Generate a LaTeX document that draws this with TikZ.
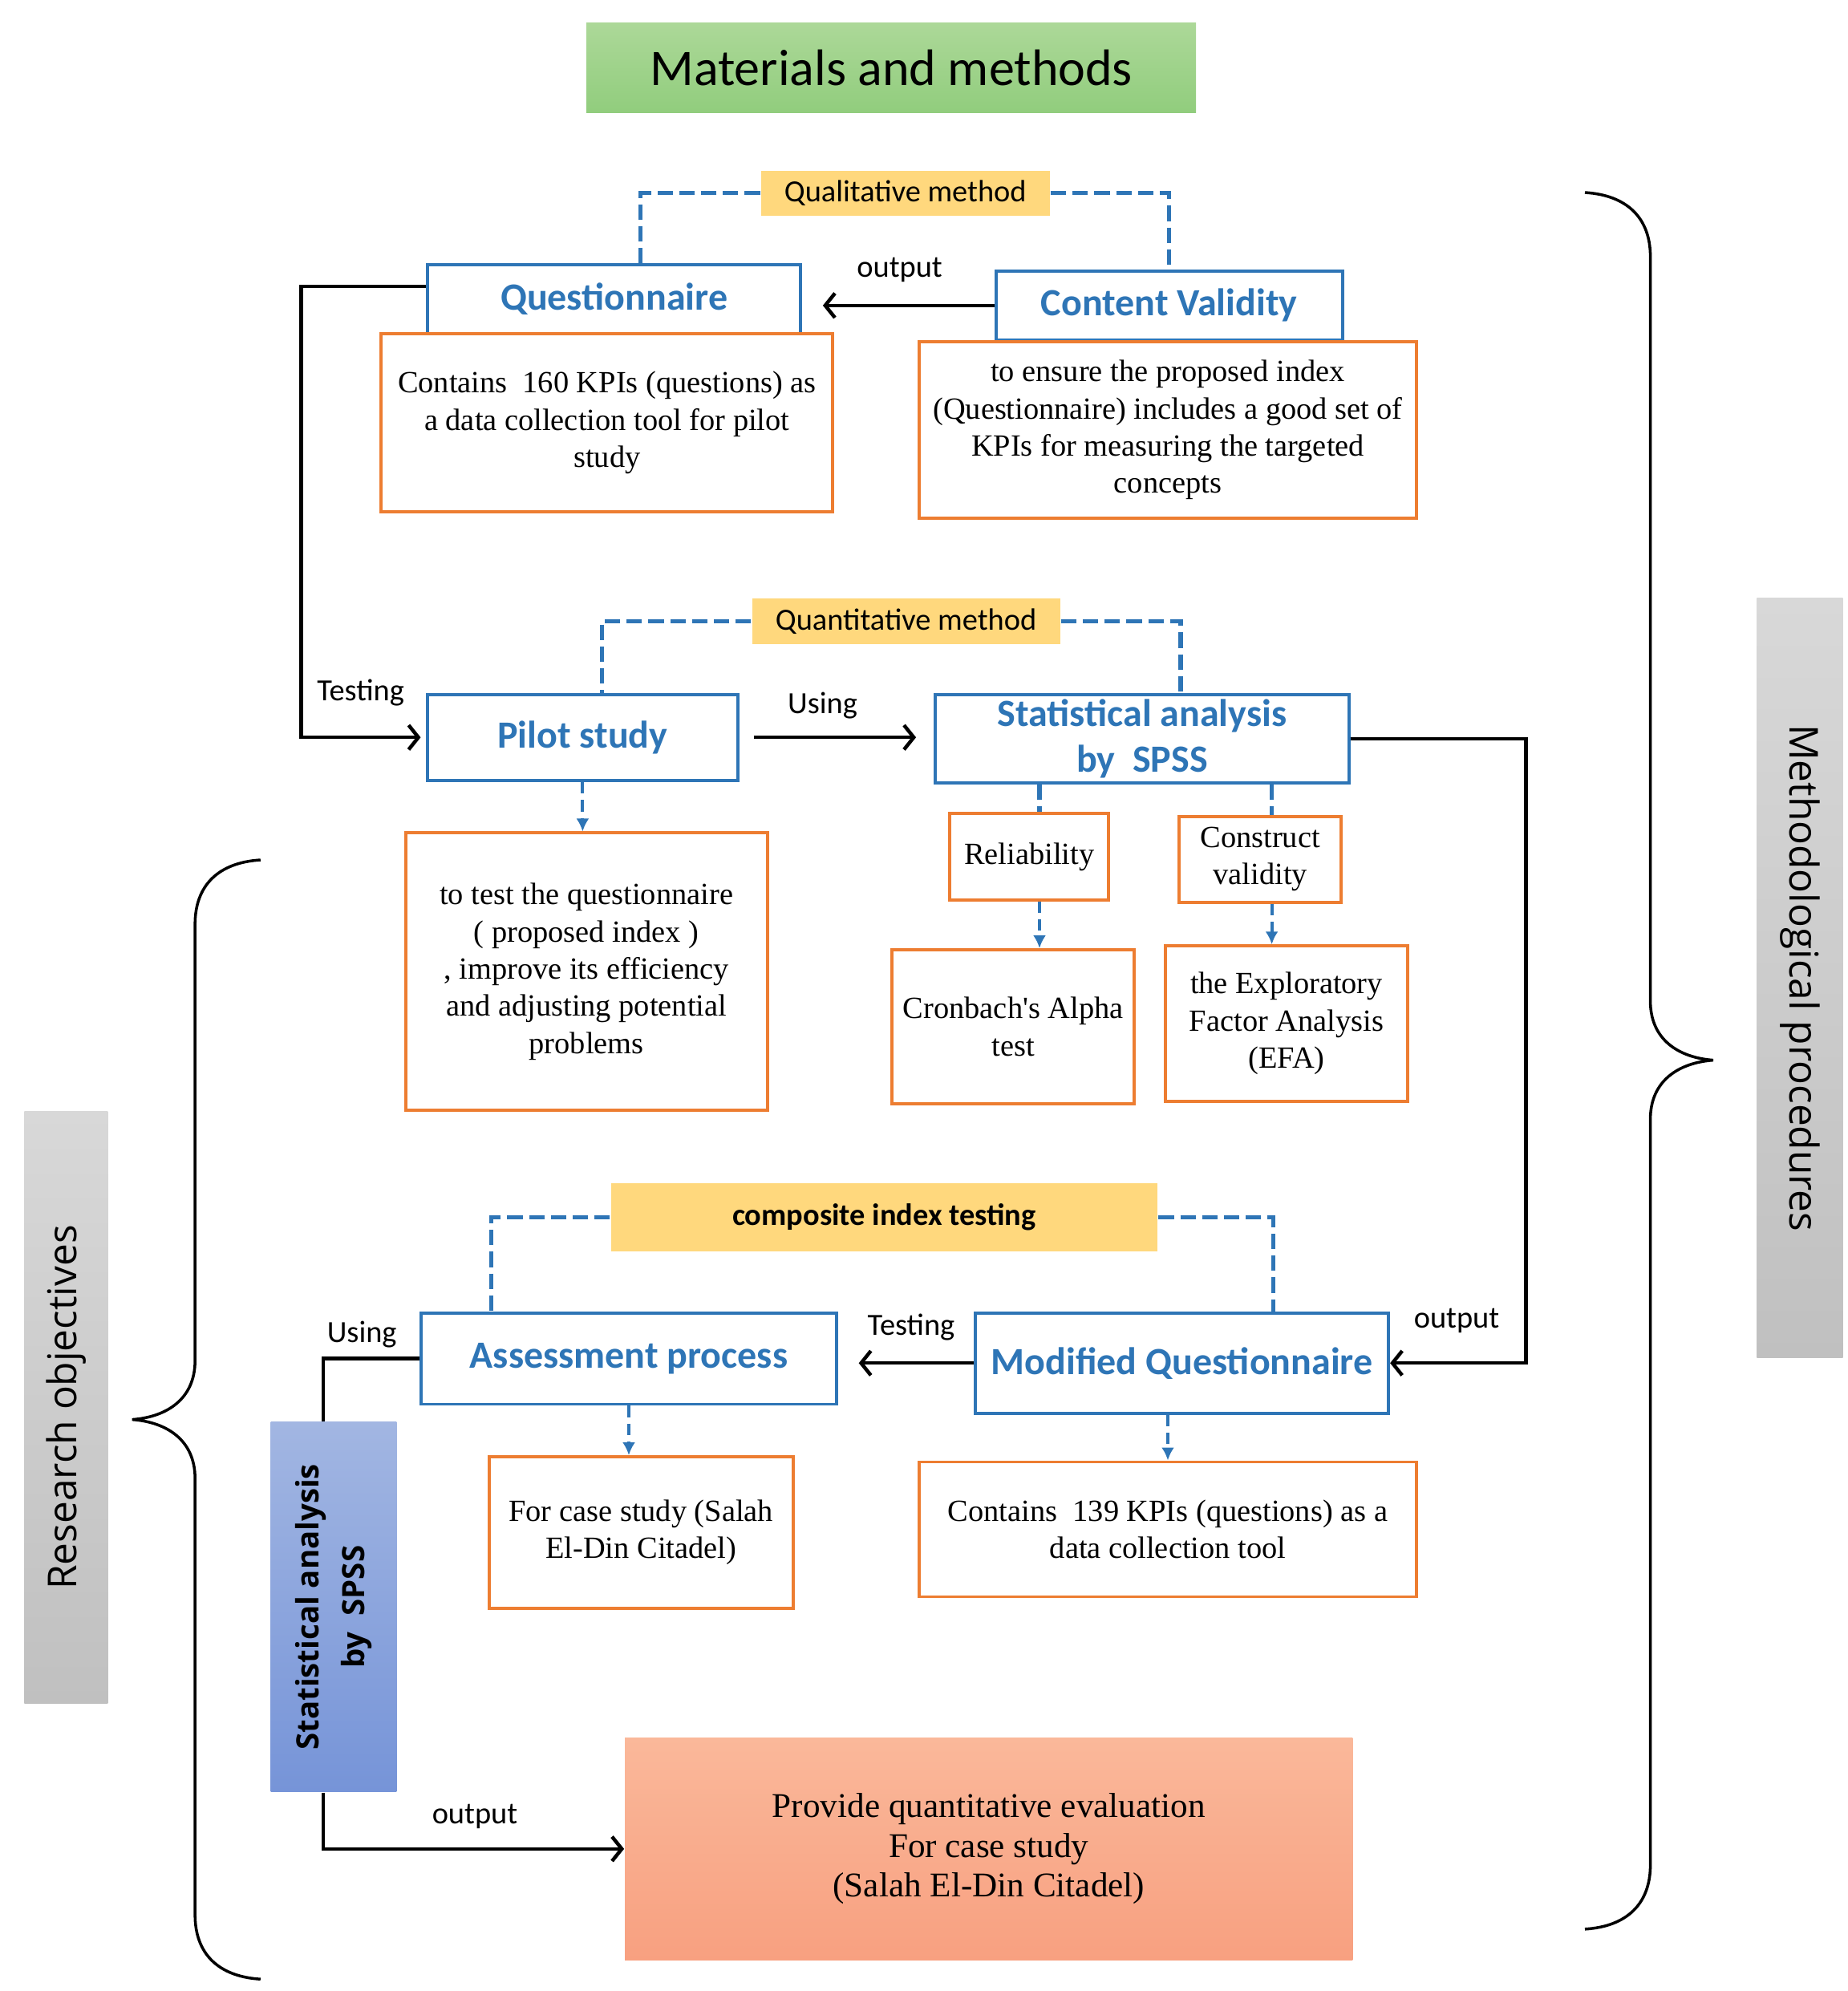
\documentclass[tikz,border=0pt]{standalone}
\usepackage{fontspec}
\setmainfont{Liberation Serif}
\setsansfont{Carlito}
\newfontfamily\sidefont{Open Sans}
\usetikzlibrary{arrows.meta}
\definecolor{boxblue}{RGB}{46,117,182}
\definecolor{boxorange}{RGB}{237,125,49}
\definecolor{tagfill}{RGB}{255,216,125}
\tikzset{> = {Straight Barb[length=3.8pt,width=9.5pt]}, every picture/.style={line width=0.7pt}}
\tikzset{
  headbox/.style={draw=boxblue, line width=1.2pt, text=boxblue, inner sep=0pt, align=center,
    font=\sffamily\bfseries\fontsize{15}{18}\selectfont},
  notebox/.style={draw=boxorange, line width=1.2pt, inner sep=0pt, align=center,
    font=\rmfamily\fontsize{12}{14.5}\selectfont},
  tagbox/.style={fill=tagfill, inner sep=0pt, font=\sffamily\fontsize{12}{14}\selectfont},
  sidebox/.style={top color={rgb,255:red,216;green,216;blue,216}, bottom color={rgb,255:red,192;green,192;blue,192},
    inner sep=0pt, font=\sidefont\fontsize{15.5}{18}\selectfont},
  lbl/.style={inner sep=0pt, font=\sffamily\fontsize{12}{14}\selectfont},
  flow/.style={draw, ->, line width=1.4pt},
  link/.style={draw=boxblue, line width=1.6pt, dash pattern=on 6pt off 2.5pt},
  drop/.style={draw=boxblue, line width=1.3pt, dash pattern=on 4.5pt off 2.5pt, -{Latex[length=5pt,width=5pt]}},
  bracket/.style={draw, line width=1.1pt}
}

\begin{document}
\begin{tikzpicture}[x=0.5pt,y=-0.5pt]
\useasboundingbox (0,0) rectangle (1440,1551.25);

% title and method tags
\node (title) at (694.5,53) [minimum width=237.5pt, minimum height=35pt,
  top color={rgb,255:red,172;green,216;blue,152}, bottom color={rgb,255:red,145;green,205;blue,125},
  font=\sffamily\fontsize{20}{24}\selectfont] {Materials and methods};
\begin{scope}[every node/.style={tagbox}]
\node (qualtag) at (705.5,150.5) [minimum width=112.5pt, minimum height=17.5pt] {Qualitative method};
\node (quanttag) at (706,484) [minimum width=120pt, minimum height=18pt] {Quantitative method};
\node (comptag) at (689,948.5) [minimum width=213pt, minimum height=26.5pt, font=\sffamily\bfseries\fontsize{12}{14}\selectfont] {composite index testing};
\end{scope}

% blue heading boxes
\begin{scope}[every node/.style={headbox}]
\node (quest) at (478.5,233) [minimum width=145.5pt, minimum height=27pt] {Questionnaire};
\node (content) at (911,238) [minimum width=135pt, minimum height=27pt] {Content Validity};
\node (pilot) at (454,574.5) [minimum width=121pt, minimum height=33.5pt] {Pilot study};
\node (stat) at (890,575.5) [minimum width=161pt, minimum height=34.5pt] {Statistical analysis\\ by~~SPSS};
\node (assess) at (490,1058.5) [minimum width=162pt, minimum height=35.5pt] {Assessment process};
\node (modq) at (921,1062) [minimum width=161pt, minimum height=39pt] {Modified Questionnaire};
\end{scope}

% orange note boxes
\begin{scope}[every node/.style={notebox}]
\node (questtxt) at (473,329.5) [minimum width=176pt, minimum height=69.5pt] {Contains~~160 KPIs (questions) as\\ a data collection tool for pilot\\ study};
\node (contenttxt) at (910,335) [minimum width=194pt, minimum height=69pt] {to ensure the proposed index\\ (Questionnaire) includes a good set of\\ KPIs for measuring the targeted\\ concepts};
\node (pilottxt) at (457,757) [minimum width=141pt, minimum height=108pt] {to test the questionnaire\\ ( proposed index )\\ , improve its efficiency\\ and adjusting potential\\ problems};
\node (reliab) at (802,667.5) [minimum width=62pt, minimum height=33.5pt] {Reliability};
\node (constr) at (982,669.5) [minimum width=63pt, minimum height=33.5pt] {Construct\\ validity};
\node (cronbach) at (789.5,800) [minimum width=94.5pt, minimum height=60pt] {Cronbach\textquotesingle s Alpha\\ test};
\node (efa) at (1002.5,797.5) [minimum width=94.5pt, minimum height=60.5pt] {the Exploratory\\ Factor Analysis\\ (EFA)};
\node (casetxt) at (499.5,1194) [minimum width=118.5pt, minimum height=59pt] {For case study (Salah\\ El-Din Citadel)};
\node (modtxt) at (910,1191.5) [minimum width=194pt, minimum height=52.5pt] {Contains~~139 KPIs (questions) as a\\ data collection tool};
\end{scope}

% spss box and result
\node (spss) at (260,1252) [rotate=90, minimum width=144pt, minimum height=49pt, inner sep=0pt, align=center,
  top color={rgb,255:red,162;green,182;blue,226}, bottom color={rgb,255:red,118;green,148;blue,216},
  font=\sidefont\bfseries\fontsize{12}{18}\selectfont] {Statistical analysis\\ by~~SPSS};
\node (final) at (770.5,1440.5) [minimum width=283.5pt, minimum height=86.5pt, inner sep=0pt, align=center,
  top color={rgb,255:red,250;green,184;blue,154}, bottom color={rgb,255:red,248;green,160;blue,128},
  font=\rmfamily\fontsize{13.5}{15.5}\selectfont] {Provide quantitative evaluation\\ For case study\\ (Salah El-Din Citadel)};

% side labels
\node (resobj) at (51.5,1096.5) [sidebox, rotate=90, minimum width=230.5pt, minimum height=32.5pt] {Research objectives};
\node (methproc) at (1402.5,762) [sidebox, rotate=-90, minimum width=296pt, minimum height=33.5pt] {Methodological procedures};

% connector labels
\begin{scope}[every node/.style={lbl}]
\node (outlbl1) at (701,210) {output};
\node (testlbl1) at (281,540) {Testing};
\node (uselbl1) at (641,550) {Using};
\node (outlbl2) at (1135,1029) {output};
\node (testlbl2) at (710,1034) {Testing};
\node (uselbl2) at (282,1040) {Using};
\node (outlbl3) at (370,1415) {output};
\end{scope}

% main flow
\path [flow, shorten >=8pt] (content.west) -- (quest.east |- content.west);
\path [flow, shorten >=2pt] ([yshift=5pt]quest.west) -- ++(-97,0) |- (pilot.west);
\path [flow, shorten <=5.5pt, shorten >=7pt] (pilot.east) -- (stat.west |- pilot.east);
\path [flow] (stat.east) -- ++(137,0) |- (modq.east);
\path [flow, shorten >=8pt] (modq.west) -- (assess.east |- modq.west);
\path [flow, -] (assess.west) -| ([xshift=-4pt]spss.east);
\path [flow] ([xshift=-4pt]spss.west) |- (final.west);

% method tags
\path [link] (qualtag.west) -| ([xshift=10.25pt]quest.north);
\path [link] (qualtag.east) -| (content.north);
\path [link] (quanttag.west) -| ([xshift=7.5pt]pilot.north);
\path [link] (quanttag.east) -| ([xshift=15pt]stat.north);
\path [link] (comptag.west) -| ([xshift=-53.5pt]assess.north);
\path [link] (comptag.east) -| ([xshift=35.5pt]modq.north);
\path [link] ([xshift=4pt]reliab.north |- stat.south) -- ([xshift=4pt]reliab.north);
\path [link] ([xshift=4.5pt]constr.north |- stat.south) -- ([xshift=4.5pt]constr.north);

% dashed arrows to notes
\path [drop] (pilot.south) -- (pilot.south |- pilottxt.north);
\path [drop] ([xshift=4pt]reliab.south) -- ([xshift=4pt]reliab.south |- cronbach.north);
\path [drop] ([xshift=4.5pt]constr.south) -- ([xshift=4.5pt]constr.south |- efa.north);
\path [drop] (assess.south) -- (assess.south |- casetxt.north);
\path [drop] (modtxt.north |- modq.south) -- (modtxt.north);

% braces
\path [bracket] (203,670) .. controls (170,672) and (152,690) .. (152,720) -- (152,1060)
  .. controls (152,1090) and (130,1104) .. (103,1106) .. controls (130,1108) and (152,1122) .. (152,1152)
  -- (152,1492) .. controls (152,1522) and (170,1540) .. (203,1542);
\path [bracket] (1235,150) .. controls (1268,152) and (1286,170) .. (1286,200) -- (1286,780)
  .. controls (1286,810) and (1308,824) .. (1335,826) .. controls (1308,828) and (1286,842) .. (1286,872)
  -- (1286,1453) .. controls (1286,1483) and (1268,1501) .. (1235,1503);
\end{tikzpicture}
\end{document}
